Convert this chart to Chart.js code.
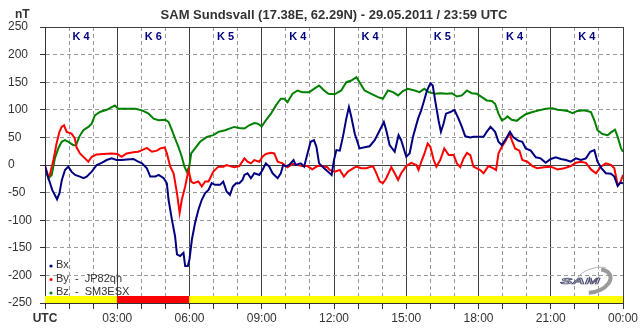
<!DOCTYPE html>
<html>
<head>
<meta charset="utf-8">
<script src="https://cdn.jsdelivr.net/npm/chart.js@4.4.0/dist/chart.umd.min.js"></script>
<style>
  html, body { margin: 0; padding: 0; background: #fff; }
  #wrap { width: 643px; height: 331px; position: relative; }
</style>
</head>
<body>
<div id="wrap"><canvas id="myChart" width="643" height="331"></canvas></div>
<script>
// ------------------------ данные ------------------------
var titleText = "SAM Sundsvall (17.38E, 62.29N) - 29.05.2011 / 23:59 UTC";
var timeLabels = ["UTC", "03:00", "06:00", "09:00", "12:00", "15:00", "18:00", "21:00", "00:00"];

var kHours = [1.5, 4.5, 7.5, 10.5, 13.5, 16.5, 19.5, 22.5];
var kIndex = [4, 6, 5, 4, 4, 5, 4, 4];

var bxHours = [0, 0.1, 0.3, 0.5, 0.6, 0.7, 0.83, 0.97, 1.1, 1.25, 1.45, 1.6, 1.73, 1.94, 2.15, 2.35, 2.56, 2.77, 2.97, 3.18, 3.4, 3.67, 3.87,
  4.03, 4.23, 4.37, 4.58, 4.72, 4.93, 5.06, 5.13, 5.27, 5.4, 5.48, 5.61, 5.75, 5.82, 5.93, 6.0, 6.1, 6.23, 6.37, 6.51, 6.65, 6.79, 6.92,
  7.06, 7.27, 7.4, 7.54, 7.68, 7.8, 7.93, 8.07, 8.2, 8.28, 8.41, 8.55, 8.69, 8.9, 9.03, 9.17, 9.31, 9.45, 9.66, 9.79, 9.89, 10.0, 10.14,
  10.32, 10.41, 10.62, 10.76, 10.9, 11.03, 11.17, 11.27, 11.38, 11.59, 11.75, 11.9, 12.0, 12.1, 12.24, 12.37, 12.51, 12.62, 12.72, 12.86,
  13.06, 13.27, 13.48, 13.69, 13.9, 14.07, 14.17, 14.31, 14.52, 14.68, 14.79, 15.0, 15.14, 15.28, 15.49, 15.62, 15.73, 15.86, 16.0, 16.1,
  16.2, 16.34, 16.44, 16.55, 16.65, 16.83, 17.0, 17.17, 17.31, 17.45, 17.66, 17.79, 18.0, 18.21, 18.34, 18.5, 18.69, 18.83, 18.97, 19.1,
  19.31, 19.45, 19.66, 19.82, 19.96, 20.17, 20.38, 20.58, 20.79, 21.0, 21.21, 21.42, 21.63, 21.83, 22.04, 22.25, 22.46, 22.64, 22.81,
  22.94, 23.11, 23.29, 23.5, 23.64, 23.78, 23.89, 24];
var bxValues = [-2, -18, -45, -62, -51, -27, -9, -3, -12, -18, -21, -24, -21, -12, 0, 4, 9, 12, 9, 9, 10, 11, 6,
  3, -6, -21, -21, -18, -24, -33, -63, -99, -129, -162, -165, -159, -183, -183, -171, -135, -105, -81, -63, -51, -45, -33,
  -36, -36, -30, -48, -54, -39, -33, -33, -27, -18, -15, -24, -15, -18, -9, 3, -3, -15, -24, -15, 0, -2, 0,
  9, 0, 3, -3, 21, 42, 45, 33, 3, -6, -12, -18, 9, 27, 26, 51, 84, 105, 87, 57,
  30, 32, 34, 45, 63, 78, 63, 36, 24, 54, 45, 15, 21, 51, 84, 99, 115, 135, 148, 144,
  117, 81, 60, 75, 93, 96, 100, 84, 69, 52, 50, 51, 51, 51, 60, 69, 60, 42, 36, 45,
  60, 50, 44, 42, 30, 26, 14, 12, 4, 11, 14, 11, 9, 6, 12, 9, 12, 24, 27,
  6, -6, -15, -16, -21, -38, -32, -33];

var byHours = [0, 0.14, 0.2, 0.35, 0.48, 0.6, 0.69, 0.79, 0.9, 1.1, 1.24, 1.31, 1.45, 1.66, 1.8, 1.94, 2.14, 2.42, 2.77, 3.0, 3.18, 3.39,
  3.67, 3.87, 4.03, 4.23, 4.44, 4.65, 4.79, 4.97, 5.06, 5.2, 5.34, 5.48, 5.59, 5.68, 5.82, 5.96, 6.07, 6.17, 6.37, 6.51, 6.65, 6.79, 6.99,
  7.2, 7.41, 7.54, 7.75, 7.86, 8.07, 8.28, 8.41, 8.55, 8.69, 8.9, 9.03, 9.17, 9.38, 9.52, 9.66, 9.86, 10.07, 10.28, 10.48, 10.69, 10.9,
  11.1, 11.31, 11.52, 11.72, 11.82, 12.03, 12.24, 12.41, 12.58, 12.79, 12.93, 13.13, 13.34, 13.62, 13.76, 13.9, 14.03, 14.17, 14.38,
  14.52, 14.66, 14.79, 15.0, 15.21, 15.42, 15.51, 15.65, 15.75, 15.89, 16.0, 16.14, 16.25, 16.41, 16.58, 16.76, 16.97, 17.1, 17.24,
  17.38, 17.52, 17.66, 17.79, 17.93, 18.07, 18.21, 18.41, 18.62, 18.73, 18.83, 18.97, 19.14, 19.28, 19.38, 19.52, 19.7, 19.82, 20.03,
  20.24, 20.44, 20.72, 21.0, 21.28, 21.56, 21.83, 22.04, 22.25, 22.46, 22.67, 22.88, 23.08, 23.29, 23.5, 23.64, 23.78, 23.89, 24];
var byValues = [-2, -21, -18, 9, 39, 60, 69, 72, 60, 57, 48, 32, 21, 12, 6, 15, 19, 20, 21, 20, 15, 21,
  23, 24, 27, 31, 24, 26, 30, 32, 21, -3, -15, -51, -87, -63, -39, -9, -30, -33, -30, -39, -30, -30, -12,
  -3, -3, 0, -3, -4, -2, 12, 6, 3, 9, 6, 15, 20, 22, 21, 6, 3, -4, 2, 0, -2, -2,
  -8, -2, -2, -4, -9, -12, -9, -21, -12, -6, -3, -6, -6, -2, -15, -30, -33, -24, -4,
  -15, -27, -15, -2, 4, 0, -9, 9, 20, 39, 33, 9, -3, 9, 30, 18, 18, 3, -4,
  12, 22, 18, -3, -6, -9, -15, -2, -6, -9, 21, 33, 45, 58, 45, 30, 26, 9, 6,
  -2, -6, -4, -3, -8, -6, -2, 4, 6, 4, -8, -15, -3, 3, 0, -6, -36, -32, -18];

var bzHours = [0, 0.14, 0.28, 0.41, 0.55, 0.69, 0.83, 0.97, 1.18, 1.29, 1.42, 1.59, 1.8, 1.94, 2.07, 2.28, 2.56, 2.77, 2.9, 3.04, 3.25,
  3.53, 3.75, 4.03, 4.3, 4.51, 4.72, 4.99, 5.13, 5.27, 5.4, 5.54, 5.68, 5.79, 5.89, 5.99, 6.07, 6.23, 6.44, 6.72, 6.99, 7.2, 7.48,
  7.66, 7.86, 8.07, 8.28, 8.48, 8.69, 8.83, 9.0, 9.17, 9.38, 9.59, 9.79, 9.93, 10.07, 10.28, 10.48, 10.69, 10.97, 11.17, 11.38, 11.59,
  11.77, 12.03, 12.3, 12.51, 12.72, 12.93, 13.06, 13.27, 13.55, 13.83, 14.03, 14.24, 14.45, 14.66, 14.86, 15.07, 15.35, 15.55, 15.75,
  15.93, 16.2, 16.41, 16.69, 16.9, 17.1, 17.31, 17.52, 17.72, 17.93, 18.14, 18.34, 18.55, 18.69, 18.83, 18.97, 19.1, 19.2, 19.38,
  19.59, 19.7, 19.96, 20.24, 20.51, 20.79, 21.07, 21.28, 21.49, 21.69, 21.9, 22.11, 22.39, 22.67, 22.81, 22.94, 23.15, 23.36, 23.53,
  23.67, 23.78, 23.92, 24];
var bzValues = [-3, -24, -18, 12, 30, 42, 45, 42, 36, 36, 51, 63, 69, 75, 90, 96, 100, 105, 108, 102, 102,
  102, 102, 99, 93, 84, 81, 82, 78, 63, 48, 33, 15, -3, -12, -3, 21, 30, 42, 51, 54, 60, 63,
  66, 69, 67, 66, 72, 76, 75, 70, 81, 93, 108, 120, 120, 114, 129, 135, 132, 132, 138, 144, 135,
  129, 128, 135, 150, 153, 159, 150, 135, 129, 123, 120, 135, 132, 126, 134, 138, 135, 132, 138,
  132, 129, 130, 129, 130, 124, 126, 135, 130, 129, 123, 117, 116, 111, 93, 81, 84, 88, 82,
  80, 84, 92, 96, 99, 102, 103, 100, 99, 98, 94, 98, 99, 96, 81, 63, 56, 54, 60,
  64, 51, 30, 24];

// ------------------------ построение ------------------------
function toPoints(hours, values) {
    var pts = [];
    for (var i = 0; i < hours.length; i++) {
        pts.push({ x: hours[i], y: values[i] });
    }
    return pts;
}

function kColor(k) {
    if (k >= 6) return '#ff0000';
    return '#ffff00';
}

var kBars = kHours.map(function (h) { return { x: h, y: [-250, -238] }; });

var FONT = '"Liberation Sans", Arial, sans-serif';

var textPlugin = {
    id: 'texts',
    afterDraw: function (chart) {
        var ctx = chart.ctx;
        var a = chart.chartArea;
        var x = chart.scales.x;
        ctx.save();
        ctx.textBaseline = 'middle';

        ctx.fillStyle = '#333';
        ctx.font = 'bold 13px ' + FONT;
        ctx.textAlign = 'center';
        ctx.fillText(titleText, (a.left + a.right) / 2, 15);
        ctx.textAlign = 'left';
        ctx.font = 'bold 12px ' + FONT;
        ctx.fillText('nT', 15, 15);

        // K-индексы
        ctx.font = 'bold 11px ' + FONT;
        ctx.fillStyle = '#00007f';
        ctx.textAlign = 'center';
        for (var i = 0; i < kIndex.length; i++) {
            ctx.fillText('K ' + kIndex[i], x.getPixelForValue(kHours[i]), a.top + 10);
        }

        // легенда
        var rows = [['Bx', '#000080'], ['By  -  JP82qh', '#ff0000'], ['Bz  -  SM3ESX', '#008000']];
        ctx.font = '11px ' + FONT;
        ctx.textAlign = 'left';
        for (var j = 0; j < rows.length; j++) {
            var yy = a.bottom - 38 + j * 13.5;
            ctx.fillStyle = rows[j][1];
            ctx.beginPath();
            ctx.arc(a.left + 6, yy + 1, 1.6, 0, Math.PI * 2);
            ctx.fill();
            ctx.fillStyle = '#333';
            ctx.fillText(rows[j][0], a.left + 11, yy);
        }

        // логотип SAM
        var lx = a.right - 43, ly = a.bottom - 22;
        ctx.strokeStyle = '#9a9a9a';
        ctx.lineWidth = 4;
        ctx.beginPath();
        ctx.ellipse(lx + 13, ly, 18, 11, -0.3, -0.9, 2.0);
        ctx.stroke();
        ctx.lineWidth = 1;
        ctx.strokeStyle = '#b5b5b5';
        ctx.beginPath();
        ctx.ellipse(lx + 15, ly - 1, 20, 12, -0.3, -2.5, -0.8);
        ctx.stroke();
        ctx.save();
        ctx.translate(lx, ly);
        ctx.scale(1.6, 0.9);
        ctx.font = 'italic bold 11px ' + FONT;
        ctx.fillStyle = '#e4e4ee';
        ctx.strokeStyle = '#4a4f6e';
        ctx.lineWidth = 0.8;
        ctx.textAlign = 'center';
        ctx.fillText('SAM', 0, 0);
        ctx.strokeText('SAM', 0, 0);
        ctx.restore();

        ctx.restore();
    }
};

var ctx = document.getElementById('myChart').getContext('2d');
var myChart = new Chart(ctx, {
    type: 'line',
    data: {
        datasets: [
            { label: 'Bx', data: toPoints(bxHours, bxValues), borderColor: '#000080', borderWidth: 2, pointRadius: 0, tension: 0, fill: false },
            { label: 'By', data: toPoints(byHours, byValues), borderColor: '#ff0000', borderWidth: 2, pointRadius: 0, tension: 0, fill: false },
            { label: 'Bz', data: toPoints(bzHours, bzValues), borderColor: '#008000', borderWidth: 2, pointRadius: 0, tension: 0, fill: false },
            {
                type: 'bar', label: 'K', data: kBars,
                backgroundColor: kIndex.map(kColor), borderWidth: 0,
                barThickness: 'flex', barPercentage: 1, categoryPercentage: 1
            }
        ]
    },
    options: {
        responsive: false,
        animation: false,
        layout: { padding: { left: 8, right: 20, top: 27, bottom: 0 } },
        plugins: { legend: { display: false }, tooltip: { enabled: false }, title: { display: false } },
        scales: {
            x: {
                type: 'linear', min: 0, max: 24, offset: false,
                grid: {
                    offset: false,
                    color: function (c) { return c.tick && c.tick.value % 3 === 0 ? 'rgba(0,0,0,0)' : '#9a9a9a'; },
                    tickColor: '#333', tickLength: 6, tickBorderDash: []
                },
                border: { color: '#333', dash: [4, 3] },
                ticks: {
                    stepSize: 1, autoSkip: false, maxRotation: 0, padding: 2, color: '#333',
                    font: function (c) { return { family: FONT, size: 12, weight: c.tick && c.tick.value === 0 ? 'bold' : 'normal' }; },
                    callback: function (v) { return v % 3 === 0 ? timeLabels[v / 3] : ''; }
                },
                afterFit: function (s) { s.height = 28; }
            },
            x2: {
                type: 'linear', min: 0, max: 24, position: 'top',
                grid: { color: '#404040', drawTicks: false },
                border: { display: false },
                ticks: { display: false, stepSize: 3 },
                afterFit: function (s) { s.height = 0; }
            },
            y: {
                min: -250, max: 250,
                grid: {
                    color: function (c) { return c.tick && (c.tick.value === 0 || Math.abs(c.tick.value) === 250) ? 'rgba(0,0,0,0)' : '#9a9a9a'; },
                    tickColor: '#333', tickLength: 5, tickBorderDash: []
                },
                border: { color: '#333', dash: [4, 3] },
                ticks: { stepSize: 50, crossAlign: 'far', color: '#333', font: { family: FONT, size: 12 } },
                afterFit: function (s) { s.width = 37; }
            },
            y2: {
                min: -250, max: 250, position: 'left',
                grid: { color: '#404040', drawTicks: false },
                border: { display: false },
                ticks: { display: false },
                afterBuildTicks: function (s) { s.ticks = [{ value: -250 }, { value: 0 }, { value: 250 }]; },
                afterFit: function (s) { s.width = 0; }
            }
        }
    },
    plugins: [textPlugin]
});
</script>
</body>
</html>
